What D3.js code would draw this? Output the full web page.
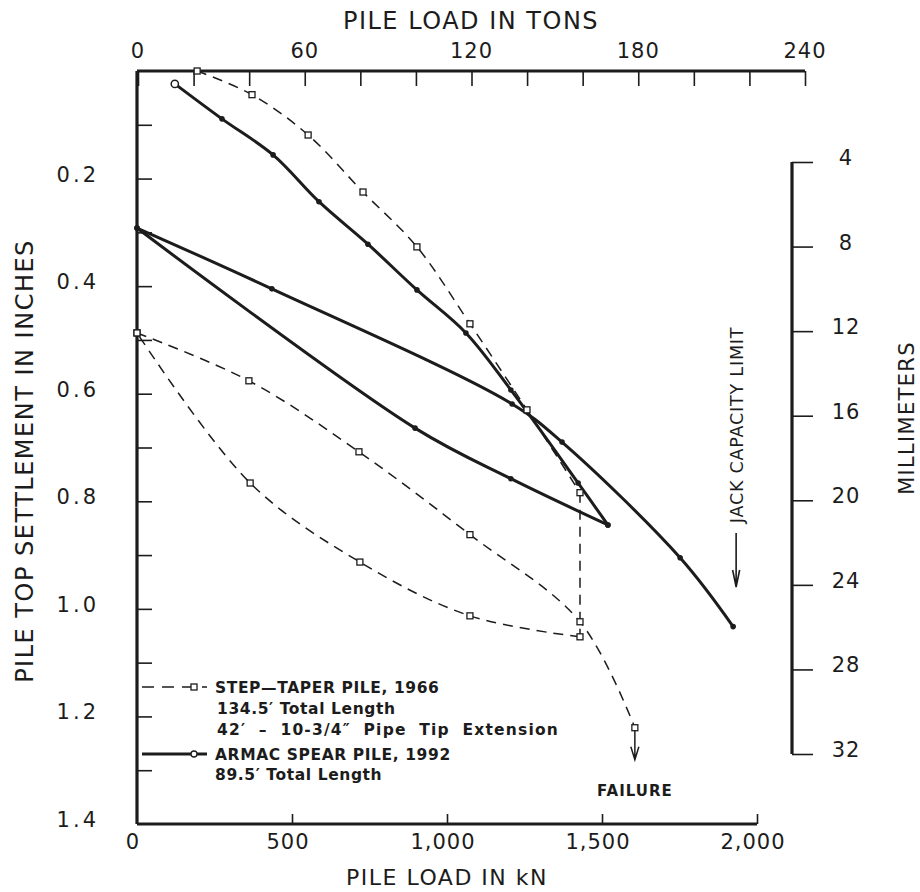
<!DOCTYPE html>
<html>
<head>
<meta charset="utf-8">
<script src="https://cdn.jsdelivr.net/npm/d3@7.9.0/dist/d3.min.js"></script>
<style>
  body { margin: 0; background: #fff; }
  svg text { font-family: "DejaVu Sans", sans-serif; fill: #1c1c1c; }
</style>
</head>
<body>
<svg id="chart" width="920" height="892"></svg>
<script>
// step-taper pile, 1966 (load in kN, settlement in inches)
const stepLoadKN = [194, 371, 552, 729, 903, 1074, 1258, 1429];
const stepLoadIn = [0, 0.044, 0.119, 0.225, 0.327, 0.470, 0.630, 0.784];
const stepHoldKN = [1429, 1429];
const stepHoldIn = [0.784, 1.052];
const stepUnloadKN = [1429, 1074, 719, 365, 0];
const stepUnloadIn = [1.052, 1.013, 0.913, 0.766, 0.487];
const stepReloadKN = [0, 361, 716, 1074, 1429, 1606];
const stepReloadIn = [0.487, 0.576, 0.708, 0.862, 1.024, 1.221];

// armac spear pile, 1992
const armLoadKN = [122, 274, 439, 587, 745, 903, 1061, 1206, 1423, 1519];
const armLoadIn = [0.024, 0.089, 0.156, 0.243, 0.322, 0.407, 0.487, 0.593, 0.766, 0.844];
const armUnloadKN = [1519, 1206, 897, 0];
const armUnloadIn = [0.844, 0.758, 0.664, 0.292];
const armReloadKN = [0, 435, 1210, 1371, 1752, 1923];
const armReloadIn = [0.292, 0.405, 0.619, 0.690, 0.905, 1.033];

// axes
const kNTicks = [0, 500, 1000, 1500, 2000];
const tonTicks = [0, 60, 120, 180, 240];
const tonMinor = d3.range(0, 241, 20);
const inchTicks = [0.2, 0.4, 0.6, 0.8, 1.0, 1.2, 1.4];
const inchMinor = d3.range(1, 14).map(d => d / 10);
const mmTicks = [4, 8, 12, 16, 20, 24, 28, 32];

const ink = '#1c1c1c';
const svg = d3.select('#chart');

let x = d3.scaleLinear().domain([0, 2000]).range([137, 757]);
let xTons = d3.scaleLinear().domain([0, 240]).range([138, 805]);
let y = d3.scaleLinear().domain([0, 1.4]).range([71, 824]);
let yMm = d3.scaleLinear().domain([4, 32]).range([162, 754]);

function zip(xs, ys) {
  return xs.map((v, i) => [v, ys[i]]);
}

// bottom axis (kN)
let axBottom = svg.append('g')
  .attr('transform', `translate(0,${y(1.4)})`)
  .call(d3.axisBottom(x).tickValues(kNTicks.slice(1)).tickSize(-10).tickFormat(''));
svg.selectAll('.kn-label')
  .data(kNTicks).join('text')
  .attr('x', d => x(d) - 4).attr('y', 849)
  .attr('text-anchor', 'middle')
  .attr('font-size', 21).attr('letter-spacing', 1)
  .text(d => d3.format(',')(d));

// top axis (tons)
let axTop = svg.append('g')
  .attr('transform', `translate(0,${y(0)})`)
  .call(d3.axisTop(xTons).tickValues(tonMinor).tickSize(-15).tickFormat(''));
svg.selectAll('.ton-label')
  .data(tonTicks).join('text')
  .attr('x', d => xTons(d)).attr('y', 58)
  .attr('text-anchor', 'middle')
  .attr('font-size', 21).attr('letter-spacing', 1)
  .text(d => d);

// left axis (inches)
let axLeft = svg.append('g')
  .attr('transform', `translate(${x(0)},0)`)
  .call(d3.axisLeft(y).tickValues(inchMinor).tickSize(-15).tickFormat(''));
svg.selectAll('.in-label')
  .data(inchTicks).join('text')
  .attr('x', 99).attr('y', d => y(d) + 3)
  .attr('text-anchor', 'end')
  .attr('font-size', 21).attr('letter-spacing', 3)
  .text(d => d.toFixed(1));

// right axis (mm)
let axRight = svg.append('g')
  .attr('transform', 'translate(792,0)')
  .call(d3.axisRight(yMm).tickValues(mmTicks).tickSize(21).tickFormat(''));
svg.selectAll('.mm-label')
  .data(mmTicks).join('text')
  .attr('x', 846).attr('y', d => yMm(d) + 3)
  .attr('text-anchor', 'middle')
  .attr('font-size', 21).attr('letter-spacing', 1)
  .text(d => d);

[axBottom, axTop, axLeft, axRight].forEach(g => {
  g.select('.domain').remove();
  g.selectAll('.tick line').attr('stroke', ink).attr('stroke-width', 1.6);
});

// axis lines
const frame = [
  [[x(0), y(0)], [xTons(240), y(0)]],
  [[x(0), y(0)], [x(0), y(1.4)]],
  [[x(0), y(1.4)], [x(2000), y(1.4)]],
  [[792, yMm(4)], [792, yMm(32)]]
];
svg.selectAll('.frame')
  .data(frame).join('path')
  .attr('d', d => d3.line()(d))
  .attr('stroke', ink).attr('stroke-width', 3.2).attr('fill', 'none');

// axis titles
svg.append('text')
  .attr('x', 471).attr('y', 29)
  .attr('text-anchor', 'middle').attr('font-size', 24).attr('letter-spacing', 1.5)
  .text('PILE LOAD IN TONS');
svg.append('text')
  .attr('x', 447).attr('y', 885)
  .attr('text-anchor', 'middle').attr('font-size', 22).attr('letter-spacing', 1.5)
  .text('PILE LOAD IN kN');
svg.append('text')
  .attr('transform', 'translate(33,461) rotate(-90)')
  .attr('text-anchor', 'middle').attr('font-size', 24).attr('letter-spacing', 1.5)
  .text('PILE TOP SETTLEMENT IN INCHES');
svg.append('text')
  .attr('transform', 'translate(914,418) rotate(-90)')
  .attr('text-anchor', 'middle').attr('font-size', 21).attr('letter-spacing', 1.3)
  .text('MILLIMETERS');

// curves
let line = d3.line()
  .x(d => x(d[0]))
  .y(d => y(d[1]))
  .curve(d3.curveCatmullRom.alpha(0.5));

let dashed = [
  zip(stepLoadKN, stepLoadIn),
  zip(stepHoldKN, stepHoldIn),
  zip(stepUnloadKN, stepUnloadIn),
  zip(stepReloadKN, stepReloadIn)
];
svg.selectAll('.step')
  .data(dashed).join('path')
  .attr('d', d => line(d))
  .attr('fill', 'none').attr('stroke', ink)
  .attr('stroke-width', 1.5).attr('stroke-dasharray', '10,7');

let solid = [
  zip(armLoadKN, armLoadIn),
  zip(armUnloadKN, armUnloadIn),
  zip(armReloadKN, armReloadIn)
];
svg.selectAll('.armac')
  .data(solid).join('path')
  .attr('d', d => line(d))
  .attr('fill', 'none').attr('stroke', ink)
  .attr('stroke-width', 3).attr('stroke-linejoin', 'round');

// markers
let squares = [].concat(
  zip(stepLoadKN, stepLoadIn),
  zip(stepUnloadKN, stepUnloadIn),
  zip(stepReloadKN, stepReloadIn)
);
svg.selectAll('.sq')
  .data(squares).join('rect')
  .attr('x', d => x(d[0]) - 3).attr('y', d => y(d[1]) - 3)
  .attr('width', 6).attr('height', 6)
  .attr('fill', '#fff').attr('stroke', ink).attr('stroke-width', 1.3);

let dots = [].concat(
  zip(armLoadKN, armLoadIn).slice(1),
  zip(armUnloadKN, armUnloadIn),
  zip(armReloadKN, armReloadIn)
);
svg.selectAll('.dot')
  .data(dots).join('circle')
  .attr('cx', d => x(d[0])).attr('cy', d => y(d[1]))
  .attr('r', 2.8).attr('fill', ink);
svg.append('circle')
  .attr('cx', x(armLoadKN[0])).attr('cy', y(armLoadIn[0]))
  .attr('r', 3.6).attr('fill', '#fff').attr('stroke', ink).attr('stroke-width', 1.5);

// failure arrow and label
let fx = x(stepReloadKN[stepReloadKN.length - 1]);
let fy = y(stepReloadIn[stepReloadIn.length - 1]);
svg.append('path')
  .attr('d', `M${fx},${fy + 3}V${fy + 32}M${fx - 4},${fy + 19}L${fx},${fy + 32}L${fx + 4},${fy + 19}`)
  .attr('fill', 'none').attr('stroke', ink).attr('stroke-width', 1.5);
svg.append('text')
  .attr('x', fx).attr('y', 796)
  .attr('text-anchor', 'middle').attr('font-size', 15).attr('font-weight', 'bold')
  .attr('letter-spacing', 1)
  .text('FAILURE');

// jack capacity limit
let jx = x(armReloadKN[armReloadKN.length - 1]) + 3;
svg.append('text')
  .attr('transform', `translate(${jx + 7},425) rotate(-90)`)
  .attr('text-anchor', 'middle').attr('font-size', 17.5).attr('letter-spacing', 0.8)
  .text('JACK CAPACITY LIMIT');
svg.append('path')
  .attr('d', `M${jx},533V587M${jx - 3.5},570L${jx},587L${jx + 3.5},570`)
  .attr('fill', 'none').attr('stroke', ink).attr('stroke-width', 1.6);

// legend
let lg = svg.append('g');
lg.append('path').attr('d', 'M142,687H207')
  .attr('stroke', ink).attr('stroke-width', 1.5).attr('stroke-dasharray', '12,8');
lg.append('rect').attr('x', 191).attr('y', 684).attr('width', 6).attr('height', 6)
  .attr('fill', '#fff').attr('stroke', ink).attr('stroke-width', 1.3);
lg.append('path').attr('d', 'M142,754H207')
  .attr('stroke', ink).attr('stroke-width', 3);
lg.append('circle').attr('cx', 194).attr('cy', 754).attr('r', 3)
  .attr('fill', '#fff').attr('stroke', ink).attr('stroke-width', 1.3);

let legendLines = [
  ['STEP\u2014TAPER PILE, 1966', 215, 693, 0],
  ['134.5\u2032 Total Length', 217, 714, 0],
  ['42\u2032 \u2013 10-3/4\u2033 Pipe Tip Extension', 217, 735, 6],
  ['ARMAC SPEAR PILE, 1992', 215, 760, 0],
  ['89.5\u2032 Total Length', 215, 780, 0]
];
lg.selectAll('text')
  .data(legendLines).join('text')
  .attr('x', d => d[1]).attr('y', d => d[2])
  .attr('font-size', 15.5).attr('font-weight', 'bold')
  .attr('letter-spacing', d => d[3] ? 1.2 : 0.6)
  .attr('word-spacing', d => d[3])
  .text(d => d[0]);
</script>
</body>
</html>
